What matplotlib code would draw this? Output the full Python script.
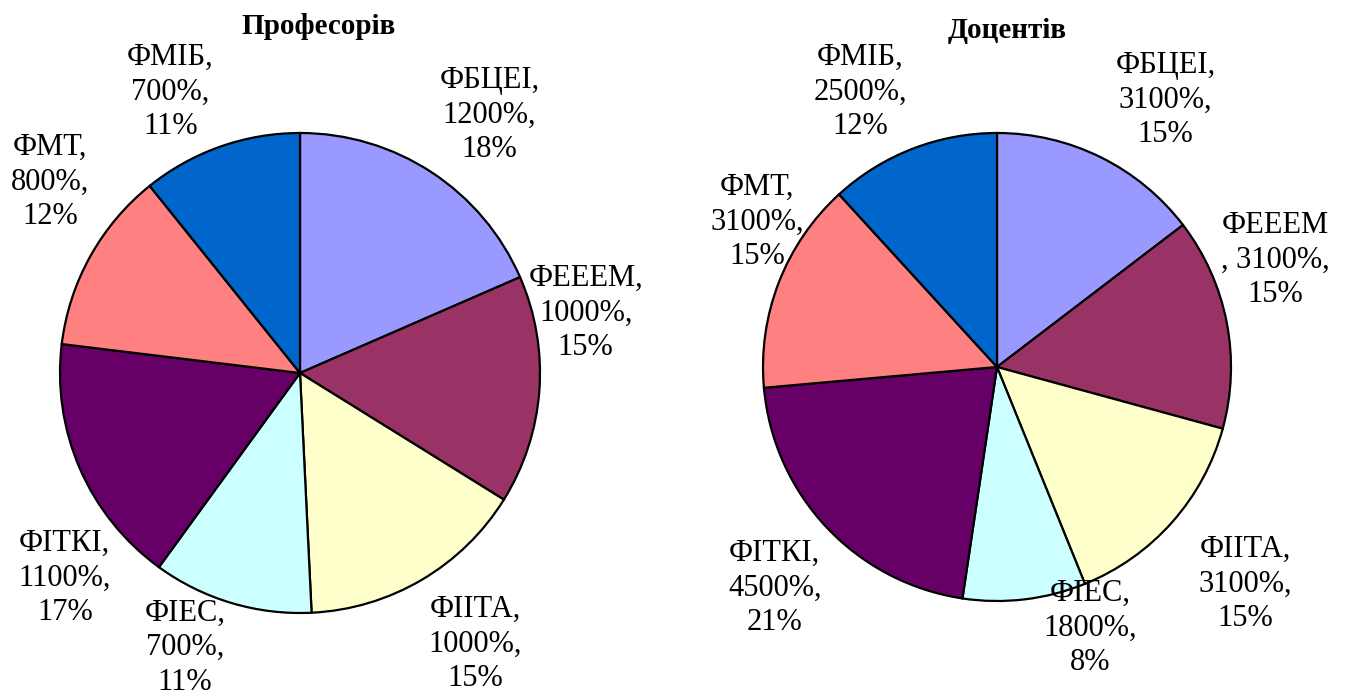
import matplotlib
matplotlib.use("Agg")
import matplotlib.pyplot as plt

# data
faculties = ["ФБЦЕІ", "ФЕЕЕМ", "ФІІТА", "ФІЕС", "ФІТКІ", "ФМТ", "ФМІБ"]
professors = [12, 10, 10, 7, 11, 8, 7]
docents = [31, 31, 31, 18, 45, 31, 25]
colors = ["#9999FF", "#993366", "#FFFFCC", "#CCFFFF", "#660066", "#FF8080", "#0066CC"]

# layout (pixels, image origin top-left) and label anchors in pie-radius units
W, H = 1351, 695
pies = [
    dict(title="Професорів", vals=professors, cx=300, cy=373, r=240, tx=318, ty=27,
         lab=[(0.79, 1.075), (1.19, 0.25), (0.73, -1.13), (-0.48, -1.145),
              (-0.98, -0.855), (-1.04, 0.795), (-0.54, 1.17)],
         wrap={}),
    dict(title="Доцентів", vals=docents, cx=997, cy=367, r=234, tx=1007, ty=30,
         lab=[(0.72, 1.14), (1.19, 0.457), (1.06, -0.927), (0.40, -1.115),
              (-0.95, -0.944), (-1.026, 0.62), (-0.585, 1.175)],
         wrap={"ФЕЕЕМ": "ФЕЕЕМ\n, {v}%,\n{p}%"}),
]

plt.rcParams["font.family"] = ["Liberation Serif", "DejaVu Serif"]
fig = plt.figure(figsize=(W / 100, H / 100), dpi=100)

for P in pies:
    r = P["r"]
    ax = fig.add_axes([(P["cx"] - r) / W, (H - P["cy"] - r) / H, 2 * r / W, 2 * r / H])
    ax.pie(P["vals"], colors=colors, startangle=90, counterclock=False, radius=1,
           wedgeprops=dict(edgecolor="black", linewidth=1.6))
    ax.set_xlim(-1, 1); ax.set_ylim(-1, 1); ax.set_aspect("equal"); ax.axis("off")
    tot = sum(P["vals"])
    for name, v, (lx, ly) in zip(faculties, P["vals"], P["lab"]):
        fmt = P["wrap"].get(name, name + ",\n{v}%,\n{p}%")
        txt = fmt.format(v=v * 100, p=round(v / tot * 100))
        ax.text(lx, ly, txt, ha="center", va="center", fontsize=22,
                linespacing=1.25, clip_on=False)
    fig.text(P["tx"] / W, 1 - P["ty"] / H, P["title"], ha="center", va="center",
             fontsize=21, fontweight="bold")

fig.savefig("out.png", dpi=100, facecolor="white")
